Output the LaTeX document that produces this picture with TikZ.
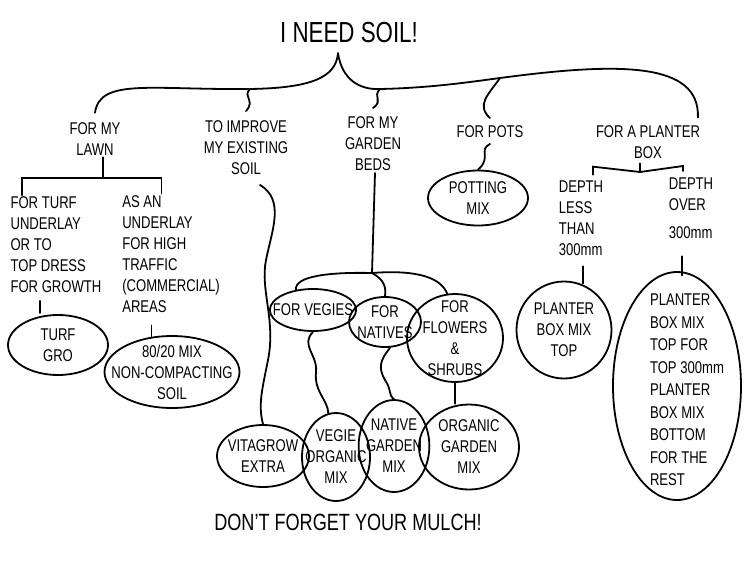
\documentclass[tikz,border=0pt]{standalone}
\usepackage{fontspec}
\setmainfont{Liberation Sans}[FakeStretch=0.77]
\usetikzlibrary{shapes.geometric}

\begin{document}
\begin{tikzpicture}[x=1pt,y=-1pt,line width=1.8pt,line cap=round]
\tikzset{every node/.style={font=\fontsize{17}{21}\selectfont}}
\tikzset{note/.style={align=center,inner sep=1pt}}
\tikzset{mix/.style={ellipse,draw,align=center,inner sep=0pt}}

\useasboundingbox (0,0) rectangle (750,563);

\node[note,font=\fontsize{29}{32}\selectfont] (need) at (349,33) {I NEED SOIL!};
\node[note] (lawn) at (95,139) {FOR MY\\LAWN};
\node[note] (improve) at (246,148) {TO IMPROVE\\MY EXISTING\\SOIL};
\node[note] (beds) at (373,144) {FOR MY\\GARDEN\\BEDS};
\node[note] (pots) at (490,132) {FOR POTS};
\node[note] (planter) at (648,142) {FOR A PLANTER\\BOX};

\node[note,align=left] (turf) at (56,245) {FOR TURF\\UNDERLAY\\OR TO\\TOP DRESS\\FOR GROWTH};
\node[note,align=left] (traffic) at (171,254) {AS AN\\UNDERLAY\\FOR HIGH\\TRAFFIC\\(COMMERCIAL)\\AREAS};
\node[note,align=left] (less) at (581,218) {DEPTH\\LESS\\THAN\\300mm};
\node[note,align=left] (over) at (691,208) {DEPTH\\OVER\\[7pt]300mm};

\node[mix,minimum width=100,minimum height=60] (turfgro) at (58,345) {TURF\\GRO};
\node[mix,minimum width=135,minimum height=72,inner xsep=-14pt,inner ysep=-3pt] (lawnmix) at (172,372) {80/20 MIX\\NON-COMPACTING\\SOIL};
\node[mix,minimum width=100,minimum height=55] (potting) at (478,198) {POTTING\\MIX};
\node[mix,minimum width=92,minimum height=62,inner xsep=-3pt] (vitagrow) at (263,456) {VITAGROW\\EXTRA};
\node[mix,minimum width=86,minimum height=42,inner xsep=-9.5pt] (vegies) at (313,310) {FOR VEGIES};
\node[mix,minimum width=72,minimum height=50,inner xsep=-3.5pt] (natives) at (385,322) {FOR\\NATIVES};
\node[mix,minimum width=96,minimum height=88,inner ysep=-9pt] (flowers) at (455,338) {FOR\\FLOWERS\\\&\\SHRUBS};
\node[mix,minimum width=68,minimum height=88,inner xsep=-6.5pt,inner ysep=-2pt] (vegiemix) at (336,457) {VEGIE\\ORGANIC\\MIX};
\node[mix,minimum width=70,minimum height=92,inner xsep=-3pt] (nativemix) at (394,446) {NATIVE\\GARDEN\\MIX};
\node[mix,minimum width=100,minimum height=85] (organicmix) at (469,447) {ORGANIC\\GARDEN\\MIX};
\node[mix,minimum width=95,minimum height=97] (boxtop) at (564,330) {PLANTER\\BOX MIX\\TOP};
\node[mix,minimum width=128,minimum height=228] (boxfull) at (677,386) {};
\node[note,align=left,font=\fontsize{17}{22.5}\selectfont] (boxfulltext) at (687,390) {PLANTER\\BOX MIX\\TOP FOR\\TOP 300mm\\PLANTER\\BOX MIX\\BOTTOM\\FOR THE\\REST};

\node[note,font=\fontsize{23.5}{26}\selectfont] (mulch) at (348,522) {DON'T FORGET YOUR MULCH!};

\coordinate (tip) at ([xshift=-11pt,yshift=-8pt]need.south);
\coordinate (lawnarm) at (250,89);
\coordinate (bedsarm) at (380,89);
\coordinate (potsarm) at (500,78);
\coordinate (lawnfork) at (103,178);
\coordinate (bedsfork) at (372,273);
\coordinate (boxfork) at (640,172);

\draw (tip) .. controls (336,78) and (310,88) .. (lawnarm) .. controls (150,90) and (100,78) .. ([yshift=8pt]lawn.north);
\draw (tip) .. controls (342,80) and (360,90) .. (bedsarm) .. controls (430,88) and (470,82) .. (potsarm) .. controls (620,62) and (700,62) .. ([xshift=-4pt,yshift=6pt]planter.north east);
\draw (lawnarm) .. controls (242,97) and (256,100) .. ([yshift=8pt]improve.north);
\draw (bedsarm) .. controls (372,97) and (384,100) .. ([yshift=7pt]beds.north);
\draw (potsarm) .. controls (488,95) and (476,105) .. ([yshift=6pt]pots.north);

\draw ([xshift=8pt]lawn.south) -- (lawnfork);
\draw ([xshift=-34pt]turf.north) |- (lawnfork) -| ([xshift=-9.5pt]traffic.north);
\draw ([xshift=-16pt,yshift=-6pt]turf.south) -- ++(0,12);
\draw ([xshift=-19.5pt,yshift=-11pt]traffic.south) -- ++(0,12);

\draw ([xshift=14pt,yshift=-8pt]improve.south) .. controls (285,200) and (272,230) .. (266,260) .. controls (260,290) and (276,320) .. (268,360) .. controls (262,390) and (258,405) .. (vitagrow.north);

\draw ([xshift=2pt]beds.south) -- (bedsfork);
\draw (bedsfork) .. controls (330,272) and (294,276) .. (vegies.130);
\draw (bedsfork) .. controls (385,280) and (386,288) .. (natives.north);
\draw (bedsfork) .. controls (410,270) and (440,275) .. (flowers.100);
\draw (vegies.south) .. controls (300,345) and (318,355) .. (316,372) .. controls (314,392) and (328,400) .. (vegiemix.100);
\draw ([xshift=5pt]natives.south) .. controls (380,360) and (378,368) .. (385,380) .. controls (392,390) and (388,395) .. (nativemix.north);
\draw (flowers.south) -- (flowers.south |- organicmix.north);

\draw ([yshift=-4pt]pots.south) .. controls (478,150) and (492,158) .. (potting.north);

\draw ([xshift=-8pt,yshift=-3pt]planter.south) -- (boxfork);
\draw ([xshift=12pt,yshift=4pt]less.north) -- ++(0,-8) -- (boxfork) -- ++(43,-6) -- ++(0,5);
\draw ([xshift=2pt,yshift=-9pt]less.south) -- ++(0,17);
\draw ([xshift=-9pt,yshift=-16pt]over.south) -- ++(0,19);

\end{tikzpicture}
\end{document}
